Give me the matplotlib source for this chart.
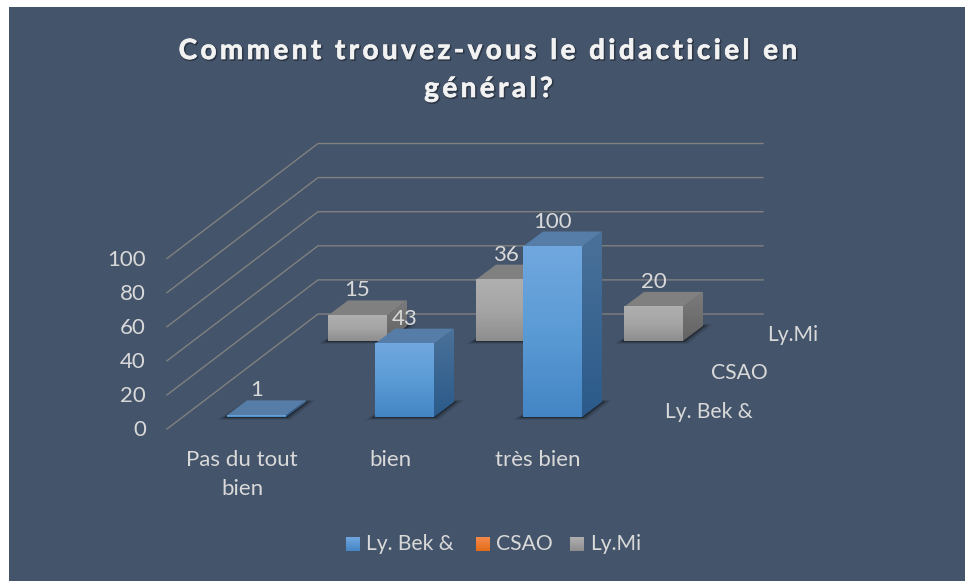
import numpy as np
import matplotlib
matplotlib.use("Agg")
import matplotlib.pyplot as plt
import matplotlib.patheffects as pe
from matplotlib.colors import LinearSegmentedColormap
from matplotlib.patches import Polygon, Rectangle

# donnees
categories = ["Pas du tout\nbien", "bien", "très bien"]
series_names = ["Ly. Bek &", "CSAO", "Ly.Mi"]
ly_bek = [1, 43, 100]
csao = [0, 0, 0]
ly_mi = [15, 36, 20]
y_ticks = [0, 20, 40, 60, 80, 100]
title_lines = ["Comment trouvez-vous le didacticiel en", "général?"]

BG = "#44546A"
TXT = "#D9D9D9"
FS = 16
FS_SERIES = 15.2
UNIT = 1.705  # px par unite de valeur
CAT_STEP = 148
BAR_W = 59
ROW_DX, ROW_DY = 50.5, -38
DEPTH_DX, DEPTH_DY = 20, -15
X0, Y0 = 227, 417

colors = {
    0: dict(front=["#71A7DF", "#5B9BD5", "#4485C5"], side=["#4A7199", "#2B5A8A"], top="#567DA8"),
    1: dict(front=["#F4894A", "#ED7D31", "#E46C1A"], side=["#A85A25", "#8F4A1A"], top="#B86A35"),
    2: dict(front=["#AFAFAF", "#A5A5A5", "#8E8E8E"], side=["#7C7C7C", "#636363"], top="#808080"),
}

plt.rcParams["font.family"] = ["Lato", "DejaVu Sans"]

fig = plt.figure(figsize=(9.65, 5.81), dpi=100, facecolor="white")
ax = fig.add_axes([0, 0, 1, 1])
ax.set_xlim(0, 965)
ax.set_ylim(581, 0)
ax.axis("off")

ax.add_patch(Rectangle((9, 7), 956, 574, fc=BG, ec="none", zorder=0))


def gradient(x0, x1, y0, y1, cols, zorder, clip=None):
    cmap = LinearSegmentedColormap.from_list("g", cols)
    g = np.linspace(0, 1, 64).reshape(-1, 1)
    im = ax.imshow(g, extent=(x0, x1, y1, y0), cmap=cmap, aspect="auto", zorder=zorder, interpolation="bilinear")
    if clip is not None:
        im.set_clip_path(clip)
    return im


def draw_bar(cat, row, val, zorder):
    x = X0 + cat * CAT_STEP + row * ROW_DX
    base = Y0 + row * ROW_DY
    top = base - val * UNIT
    c = colors[row]
    # ombre au sol
    for grow, alpha in [(10, 0.08), (7, 0.12), (4, 0.2), (2, 0.3)]:
        ax.add_patch(Polygon([(x - grow, base + grow * 0.3), (x + BAR_W + grow * 0.5, base + grow * 0.3),
                              (x + BAR_W + DEPTH_DX + grow, base + DEPTH_DY - grow * 0.2),
                              (x + DEPTH_DX, base + DEPTH_DY - grow * 0.2)],
                             closed=True, fc="black", ec="none", alpha=alpha, zorder=zorder))
    # face laterale
    side = Polygon([(x + BAR_W, top), (x + BAR_W + DEPTH_DX, top + DEPTH_DY),
                    (x + BAR_W + DEPTH_DX, base + DEPTH_DY), (x + BAR_W, base)],
                   closed=True, fc="none", ec="none", zorder=zorder + 0.1)
    ax.add_patch(side)
    gradient(x + BAR_W, x + BAR_W + DEPTH_DX, top + DEPTH_DY, base, c["side"], zorder + 0.1, side)
    # dessus
    ax.add_patch(Polygon([(x, top), (x + DEPTH_DX, top + DEPTH_DY), (x + BAR_W + DEPTH_DX, top + DEPTH_DY),
                          (x + BAR_W, top)], closed=True, fc=c["top"], ec="none", zorder=zorder + 0.2))
    # face avant
    gradient(x, x + BAR_W, top, base, c["front"], zorder + 0.3)
    # etiquette
    ax.text(x + BAR_W / 2, top + DEPTH_DY - 10, str(val), color=TXT, fontsize=FS,
            ha="center", va="center", zorder=20)


# grille : parois gauche et arriere
FX, FY, BX, BY, RX = 167, 429, 318, 314, 763
for t in y_ticks:
    dy = t * UNIT
    ax.plot([FX, BX, RX], [FY - dy, BY - dy, BY - dy], color="#808080", lw=1.0, zorder=1)
    ax.text(146, FY - dy + 1.5, str(t), color=TXT, fontsize=FS, ha="right", va="center")

rows = [ly_mi, csao, ly_bek]
row_ids = [2, 1, 0]
for vals, row in zip(rows, row_ids):
    if row == 1:
        continue  # serie vide, rien de visible
    for i, v in enumerate(vals):
        draw_bar(i, row, v, 2 + (2 - row) * 2)

# categories
for i, name in enumerate(categories):
    ax.text(242 + i * CAT_STEP, 450, name, color=TXT, fontsize=FS,
            ha="center", va="top", linespacing=1.58)

# noms de series sur l'axe de profondeur
for name, xr, yy in zip(series_names, [753, 768, 818], [412, 373, 335]):
    ax.text(xr, yy, name, color=TXT, fontsize=FS_SERIES, ha="right", va="center")

# titre, espacement des lettres avec des espaces fines
effects = [pe.SimpleLineShadow(offset=(0.8, -0.8), alpha=0.35, linewidth=1.2),
           pe.withStroke(linewidth=0.5, foreground="#F2F2F2")]
for line, yy in zip(title_lines, [51, 89]):
    spaced = "\u200a\u200a".join(line)
    ax.text(488.5, yy, spaced, color="#F2F2F2", fontsize=20, fontweight="bold", ha="center", va="center",
            zorder=30, path_effects=effects)

# legende
leg_x = [346, 476, 570]
for name, lx, row in zip(series_names, leg_x, [0, 1, 2]):
    gradient(lx, lx + 14, 537, 551, [colors[row]["front"][0], colors[row]["front"][2]], 5)
    ax.text(lx + 20, 544, name, color=TXT, fontsize=FS_SERIES, ha="left", va="center")

ax.set_xlim(0, 965)
ax.set_ylim(581, 0)
fig.savefig("out.png", dpi=100, facecolor="white")
